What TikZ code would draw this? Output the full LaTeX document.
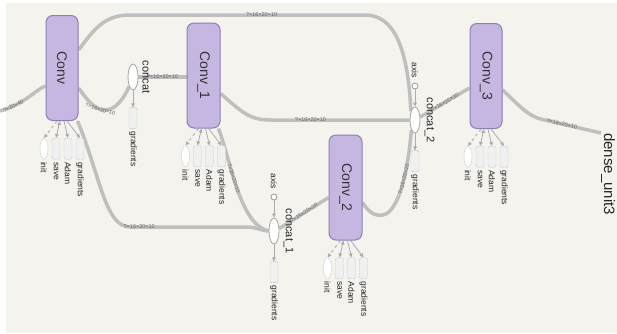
\documentclass[tikz,border=0pt]{standalone}
\usepackage{fontspec}
\setmainfont{Liberation Sans}
\definecolor{convfill}{HTML}{C6B7E2}
\definecolor{convline}{HTML}{8F7DB6}
\definecolor{edgegray}{HTML}{BFBFBF}
\definecolor{pagebg}{HTML}{F4F3EE}
\usepackage{graphicx}
\usetikzlibrary{shapes.geometric, positioning, backgrounds, arrows.meta, calc}
\newcommand{\vtext}[1]{\rotatebox{-90}{#1}}
\newcommand{\helpers}[1]
{
	\node[helper, ellipse, fill=white, label={[smalltext, label distance=2pt]below:\vtext{init}}] at ($(#1.south)+(-18,17)$) (#1i){};
	\node[helper, label={[smalltext, label distance=2pt]below:\vtext{save}}] at ($(#1.south)+(-6,17)$) (#1s){};
	\node[helper, label={[smalltext, label distance=2pt]below:\vtext{Adam}}] at ($(#1.south)+(6,17)$) (#1a){};
	\node[helper, label={[smalltext, label distance=2pt]below:\vtext{gradients}}] at ($(#1.south)+(18,17)$) (#1g){};
	\draw[link, dashed] ([xshift=-5pt]#1.south) -- (#1i.north);
	\draw[link, {Triangle[length=4pt, width=3.5pt]}-{Triangle[length=4pt, width=3.5pt]}] ([xshift=-2pt]#1.south) -- (#1s.north);
	\draw[link] ([xshift=2pt]#1.south) -- (#1a.north);
	\draw[link] ([xshift=5pt]#1.south) -- (#1g.north);
}

\begin{document}
\begin{tikzpicture}[x=1pt, y=-1pt,
	convbox/.style={shape=rectangle, draw=convline, fill=convfill, line width=1pt,
		rounded corners=7pt, minimum width=32pt, minimum height=105pt, inner sep=0pt,
		text=black!80, font=\fontsize{14}{16}\selectfont},
	opnode/.style={shape=ellipse, draw=gray!70, fill=white, line width=0.8pt,
		minimum width=10pt, minimum height=26pt, inner sep=0pt},
	axisnode/.style={shape=circle, draw=gray!80, fill=white, line width=0.8pt,
		minimum size=6pt, inner sep=0pt},
	helper/.style={shape=rectangle, draw=gray!55, dash pattern=on 1.2pt off 0.8pt,
		fill=gray!12, rounded corners=2pt, minimum width=8pt, minimum height=21pt,
		inner sep=0pt, anchor=north},
	smalltext/.style={font=\fontsize{8.5}{9}\selectfont, text=black!85, inner sep=0.5pt},
	opname/.style={font=\fontsize{11}{12}\selectfont, text=black!85, inner sep=0pt},
	flow/.style={draw=edgegray, line width=3.5pt},
	elabel/.style={font=\fontsize{5.5}{6}\selectfont, text=black!60, inner sep=0.5pt},
	link/.style={draw=gray!65, line width=0.8pt, -{Triangle[length=4pt, width=3.5pt]}}]

	\useasboundingbox (0,0) rectangle (617,333);

	% layer nodes
	\node[convbox] at (62,68) (conv){\vtext{Conv}};
	\node[convbox, minimum width=33pt] at (203.5,75.5) (conv1){\vtext{Conv\_1}};
	\node[convbox, minimum width=33pt] at (345.5,187.5) (conv2){\vtext{Conv\_2}};
	\node[convbox] at (486,76) (conv3){\vtext{Conv\_3}};
	\helpers{conv}
	\helpers{conv1}
	\helpers{conv2}
	\helpers{conv3}

	% concat ops
	\node[opnode] at (133,77) (cat){};
	\node[opname, right=4pt of cat] (catname){\vtext{concat}};
	\node[helper, below=17pt of cat, label={[smalltext, label distance=2pt]below:\vtext{gradients}}] (catg){};
	\draw[link] (cat) -- (catg);

	\node[opnode] at (274,231) (cat1){};
	\node[opname, right=4pt of cat1] (cat1name){\vtext{concat\_1}};
	\node[axisnode] at (274,197) (ax1){};
	\node[smalltext, above=4pt of ax1] (ax1name){\vtext{axis}};
	\node[helper, below=17pt of cat1, label={[smalltext, label distance=2pt]below:\vtext{gradients}}] (cat1g){};
	\draw[link] (ax1) -- (cat1);
	\draw[link] (cat1) -- (cat1g);

	\node[opnode] at (415,120) (cat2){};
	\node[opname, right=4pt of cat2] (cat2name){\vtext{concat\_2}};
	\node[axisnode] at (415,86) (ax2){};
	\node[smalltext, above=4pt of ax2] (ax2name){\vtext{axis}};
	\node[helper, below=17pt of cat2, label={[smalltext, label distance=2pt]below:\vtext{gradients}}] (cat2g){};
	\draw[link] (ax2) -- (cat2);
	\draw[link] (cat2) -- (cat2g);

	\node[anchor=north west, inner sep=0pt, text=black!85, font=\fontsize{15}{17}\selectfont] at (601,133) (dense){\vtext{dense\_unit3}};

	% data edges
	\begin{scope}[on background layer]
	\fill[white] (0,0) rectangle (617,333);
	\fill[pagebg] (6,3) rectangle (617,333);
	\coordinate (src) at (0,111);
	\draw[flow] (src) .. controls (25,104) and (35,90) .. ([yshift=-18pt]conv.west)
		node[elabel, pos=0.2, sloped] {?×20×40};
	\draw[flow] ([yshift=18pt]conv.east) .. controls (95,28) and (105,15) .. (130,15) -- (365,15)
		node[elabel, pos=0.56] {?×16×20×10} .. controls (395,15) and (408,50) .. (cat2.115);
	\draw[flow] ([yshift=-20pt]conv.east) .. controls (90,104) and (97,110) .. (105,110)
		node[elabel, pos=0.8, sloped] {?×16×20×10} .. controls (115,110) and (123,100) .. (cat.south west);
	\draw[flow] (cat.east) -- (conv1.west |- cat.east) node[elabel, midway] {?×16×20×10};
	\draw[flow] ([yshift=-18pt]conv1.east) .. controls (240,110) and (248,120) .. (270,120) -- (cat2.west)
		node[elabel, pos=0.29] {?×16×20×10};
	\draw[flow] ([xshift=-1pt]conv.south east) .. controls (100,175) and (105,227) .. (130,227) -- (245,227)
		node[elabel, pos=0.08] {?×16×20×10} .. controls (258,227) and (262,231) .. (cat1.west);
	\draw[flow] ([xshift=-2pt]conv1.south east) .. controls (232,165) and (240,224) .. (cat1.west)
		node[elabel, pos=0.4, sloped] {?×16×20×10};
	\draw[flow] (cat1.25) -- ([yshift=-10pt]conv2.west) node[elabel, midway, sloped] {?×16×20×20};
	\draw[flow] ([yshift=-15pt]conv2.east) .. controls (370,215) and (378,217) .. (386,214)
		.. controls (400,206) and (408,170) .. (cat2.250) node[elabel, pos=0.55, sloped] {?×16×20×10};
	\draw[flow] (cat2.30) -- ([yshift=-12pt]conv3.west) node[elabel, midway, sloped] {?×16×20×30};
	\draw[flow] ([yshift=-14pt]conv3.east) .. controls (520,106) and (528,117) .. (545,120) -- (dense.north west)
		node[elabel, pos=0.3, sloped] {?×16×20×10};
	\end{scope}
\end{tikzpicture}
\end{document}
